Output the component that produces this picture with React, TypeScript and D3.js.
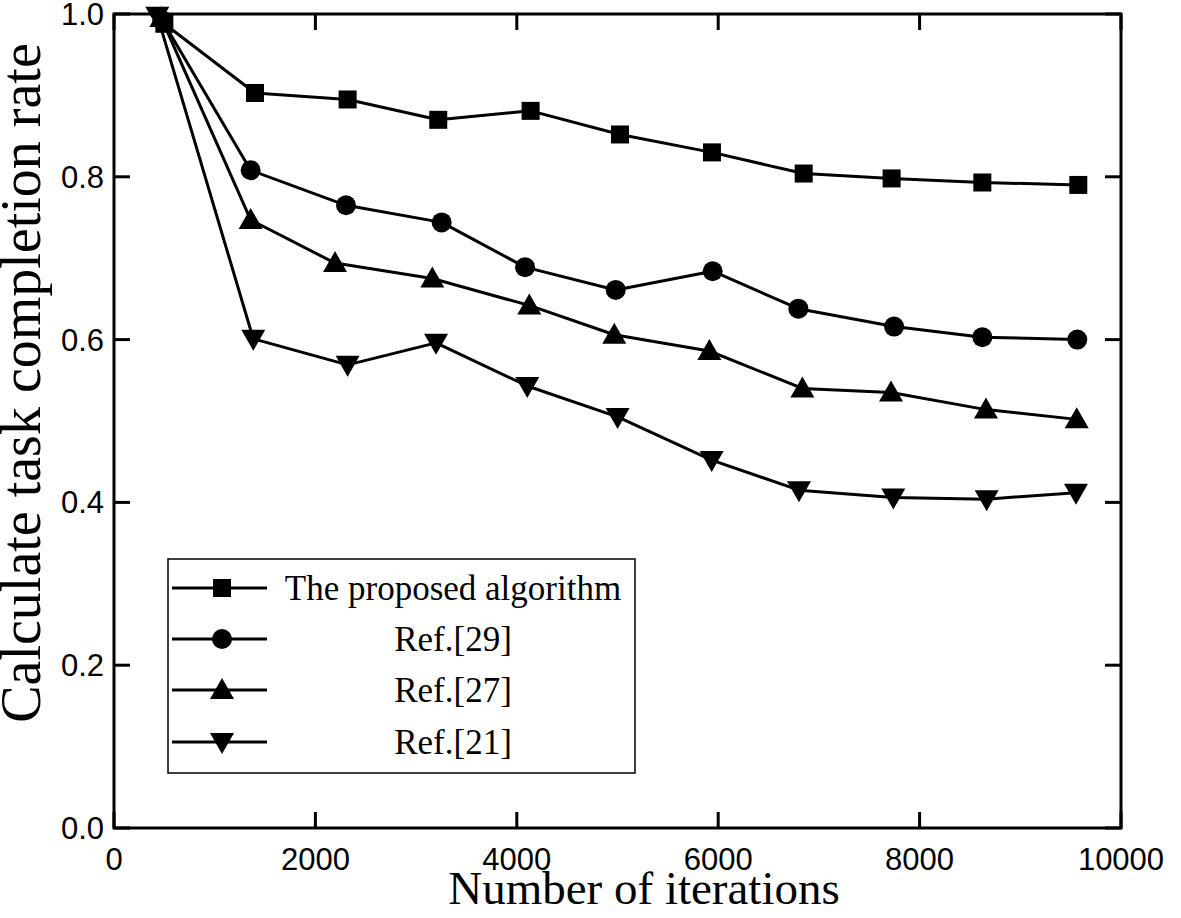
import React, { useEffect } from "react";
import * as d3 from "d3";

const xTicks = [0, 2000, 4000, 6000, 8000, 10000];
const yTicks = [0.0, 0.2, 0.4, 0.6, 0.8, 1.0];

const seriesNames = ["The proposed algorithm", "Ref.[29]", "Ref.[27]", "Ref.[21]"];
const seriesShapes = ["square", "circle", "triangle", "invtriangle"];

const xProposed = [500, 1400, 2320, 3220, 4137, 5025, 5938, 6849, 7722, 8623, 9576];
const yProposed = [0.988, 0.903, 0.895, 0.870, 0.881, 0.852, 0.830, 0.804, 0.798, 0.793, 0.790];

const xRef29 = [480, 1357, 2304, 3254, 4082, 4982, 5945, 6796, 7746, 8623, 9566];
const yRef29 = [0.992, 0.808, 0.765, 0.744, 0.689, 0.661, 0.684, 0.638, 0.616, 0.603, 0.600];

const xRef27 = [470, 1357, 2195, 3161, 4124, 4968, 5912, 6836, 7716, 8659, 9560];
const yRef27 = [0.995, 0.747, 0.694, 0.675, 0.642, 0.606, 0.586, 0.540, 0.535, 0.514, 0.502];

const xRef21 = [430, 1383, 2320, 3198, 4104, 5001, 5935, 6802, 7739, 8666, 9553];
const yRef21 = [0.998, 0.601, 0.569, 0.596, 0.543, 0.505, 0.452, 0.415, 0.406, 0.404, 0.412];

const seriesX = [xProposed, xRef29, xRef27, xRef21];
const seriesY = [yProposed, yRef29, yRef27, yRef21];

const W = 1181;
const H = 918;
const left = 114;
const right = 1121;
const top = 14;
const bottom = 828;

function Marker({ shape, x, y }: { shape: string; x: number; y: number }) {
  if (shape === "square") {
    return <rect x={x - 9} y={y - 9} width={18} height={18} fill="#000" />;
  }
  if (shape === "circle") {
    return <circle cx={x} cy={y} r={10} fill="#000" />;
  }
  if (shape === "triangle") {
    const p = `${x},${y - 12} ${x - 12},${y + 9} ${x + 12},${y + 9}`;
    return <polygon points={p} fill="#000" />;
  }
  const p = `${x},${y + 12} ${x - 12},${y - 9} ${x + 12},${y - 9}`;
  return <polygon points={p} fill="#000" />;
}

export default function App() {
  useEffect(() => {
    document.body.style.margin = "0";
  }, []);

  const xs = d3.scaleLinear().domain([0, 10000]).range([left, right]);
  const ys = d3.scaleLinear().domain([0, 1]).range([bottom, top]);
  const line = d3
    .line<[number, number]>()
    .x((d) => xs(d[0]))
    .y((d) => ys(d[1]));

  const serif = "'Liberation Serif', 'Times New Roman', serif";
  const sans = "'Liberation Sans', Arial, sans-serif";
  const tickLen = 16;

  const legendRows = [588, 639, 690, 742];

  return (
    <svg width={W} height={H} style={{ display: "block", background: "#fff" }}>
      <rect x={0} y={0} width={W} height={H} fill="#fff" />
      {/* series lines */}
      {seriesX.map((xa, i) => {
        const pts = xa.map((xv, j) => [xv, seriesY[i][j]] as [number, number]);
        return (
          <g key={i}>
            <path d={line(pts) || ""} fill="none" stroke="#000" strokeWidth={3} strokeLinejoin="round" />
            {pts.map((p, j) => (
              <Marker key={j} shape={seriesShapes[i]} x={xs(p[0])} y={ys(p[1])} />
            ))}
          </g>
        );
      })}
      {/* frame */}
      <rect x={left} y={top} width={right - left} height={bottom - top} fill="none" stroke="#000" strokeWidth={3} />
      {/* x ticks */}
      {xTicks.map((t) => (
        <g key={"x" + t}>
          <line x1={xs(t)} x2={xs(t)} y1={bottom} y2={bottom - tickLen} stroke="#000" strokeWidth={3} />
          <line x1={xs(t)} x2={xs(t)} y1={top} y2={top + tickLen} stroke="#000" strokeWidth={3} />
          <text x={xs(t)} y={870} textAnchor="middle" fontFamily={sans} fontSize={31} fill="#000">
            {t}
          </text>
        </g>
      ))}
      {/* y ticks */}
      {yTicks.map((t) => (
        <g key={"y" + t}>
          <line x1={left} x2={left + tickLen} y1={ys(t)} y2={ys(t)} stroke="#000" strokeWidth={3} />
          <line x1={right} x2={right - tickLen} y1={ys(t)} y2={ys(t)} stroke="#000" strokeWidth={3} />
          <text x={104} y={ys(t) + 11} textAnchor="end" fontFamily={sans} fontSize={31} fill="#000">
            {t.toFixed(1)}
          </text>
        </g>
      ))}
      {/* axis titles */}
      <text x={644} y={904} textAnchor="middle" fontFamily={serif} fontSize={47} fill="#000">
        Number of iterations
      </text>
      <text
        transform={`translate(40, 383) rotate(-90)`}
        textAnchor="middle"
        fontFamily={serif}
        fontSize={56}
        fill="#000"
      >
        Calculate task completion rate
      </text>
      {/* legend */}
      <rect x={168} y={559} width={467} height={214} fill="#fff" stroke="#000" strokeWidth={1.5} />
      {seriesNames.map((name, i) => (
        <g key={name}>
          <line x1={172} x2={267} y1={legendRows[i]} y2={legendRows[i]} stroke="#000" strokeWidth={3} />
          <Marker shape={seriesShapes[i]} x={222} y={legendRows[i]} />
          <text x={453} y={legendRows[i] + 12} textAnchor="middle" fontFamily={serif} fontSize={35} fill="#000">
            {name}
          </text>
        </g>
      ))}
    </svg>
  );
}
